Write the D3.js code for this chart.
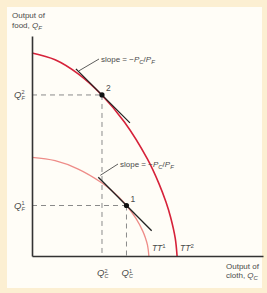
<!DOCTYPE html>
<html>
<head>
<meta charset="utf-8">
<script src="https://cdn.jsdelivr.net/npm/d3@7"></script>
<style>
  body { margin: 0; background: #fcefd2; }
  svg text { font-family: "Liberation Sans", Arial, sans-serif; fill: #4a4a4a; }
</style>
</head>
<body>
<div id="chart"></div>
<script>
// production possibility frontiers (Qc, Qf)
const outerQc = [0, 10, 20, 30, 40, 50, 55, 58, 60, 62, 62.8];
const outerQf = [92.3, 89.2, 82.8, 73.4, 60.9, 44.0, 32.8, 24.5, 17.6, 8.1, 0];
const innerQc = [0, 10, 20, 30, 35, 40, 45, 48, 49, 50, 50.6];
const innerQf = [44.8, 43.3, 39.5, 33.4, 29.3, 24.1, 17.1, 11.2, 8.5, 4.9, 0];

// production points
const pointNames = ["1", "2"];
const pointQc = [40.9, 30.3];
const pointQf = [22.95, 73.2];

// price line -Pc/Pf and extent of each tangent in Qc
const priceRatio = 1.05;
const tangentFrom = [28.7, 19.0];
const tangentTo = [51.8, 42.4];

const curveNames = ["1", "2"];

const width = 267, height = 293;
const svg = d3.select("#chart").append("svg")
    .attr("width", width)
    .attr("height", height);

// inner panel
svg.append("rect")
    .attr("x", 7).attr("y", 7)
    .attr("width", 255).attr("height", 281)
    .attr("fill", "#fffdf7");

const x = d3.scaleLinear().domain([0, 100]).range([32, 263]);
const y = d3.scaleLinear().domain([0, 100]).range([256, 36]);

// dashed guides
const guides = svg.append("g")
    .attr("stroke", "#8a8a8a")
    .attr("stroke-width", 1)
    .attr("stroke-dasharray", "5,4");
pointQc.forEach((qc, i) => {
    guides.append("line")
        .attr("x1", x(0)).attr("x2", x(qc))
        .attr("y1", y(pointQf[i])).attr("y2", y(pointQf[i]));
    guides.append("line")
        .attr("x1", x(qc)).attr("x2", x(qc))
        .attr("y1", y(pointQf[i])).attr("y2", y(0));
});

const line = d3.line()
    .x(d => x(d[0]))
    .y(d => y(d[1]))
    .curve(d3.curveCatmullRom.alpha(0.5));

svg.append("path")
    .datum(innerQc.map((v, i) => [v, innerQf[i]]))
    .attr("d", line)
    .attr("fill", "none")
    .attr("stroke", "#ee8c88")
    .attr("stroke-width", 1.3);

svg.append("path")
    .datum(outerQc.map((v, i) => [v, outerQf[i]]))
    .attr("d", line)
    .attr("fill", "none")
    .attr("stroke", "#d6223a")
    .attr("stroke-width", 1.6);

// tangent price lines
pointQc.forEach((qc, i) => {
    const f = q => pointQf[i] - priceRatio * (q - qc);
    svg.append("line")
        .attr("x1", x(tangentFrom[i])).attr("y1", y(f(tangentFrom[i])))
        .attr("x2", x(tangentTo[i])).attr("y2", y(f(tangentTo[i])))
        .attr("stroke", "#222")
        .attr("stroke-width", 1.3);
});

// axes
svg.append("g")
    .attr("transform", `translate(0,${y(0)})`)
    .call(d3.axisBottom(x).ticks(0).tickSizeOuter(0))
    .select(".domain").attr("stroke", "#333").attr("stroke-width", 1.6);
svg.append("g")
    .attr("transform", `translate(${x(0)},0)`)
    .call(d3.axisLeft(y).ticks(0).tickSizeOuter(0))
    .select(".domain").attr("stroke", "#333").attr("stroke-width", 1.6);

// points
svg.selectAll("circle.pt")
    .data(pointQc)
    .enter()
    .append("circle")
    .attr("class", "pt")
    .attr("cx", d => x(d))
    .attr("cy", (d, i) => y(pointQf[i]))
    .attr("r", 2.6)
    .attr("fill", "#111");

svg.selectAll("text.ptlabel")
    .data(pointNames)
    .enter()
    .append("text")
    .attr("class", "ptlabel")
    .attr("x", (d, i) => x(pointQc[i]) + 4)
    .attr("y", (d, i) => y(pointQf[i]) - 4)
    .attr("font-size", 8.5)
    .text(d => d);

// Q with sub and sup stacked
function qLabel(px, py, sub, sup) {
    const g = svg.append("g");
    g.append("text").attr("x", px).attr("y", py)
        .attr("font-size", 9.5).attr("font-style", "italic").text("Q");
    g.append("text").attr("x", px + 7.5).attr("y", py - 3.5)
        .attr("font-size", 5.5).text(sup);
    g.append("text").attr("x", px + 7.5).attr("y", py + 2)
        .attr("font-size", 5.5).attr("font-style", "italic").text(sub);
}
pointQf.forEach((qf, i) => qLabel(14, y(qf) + 3, "F", pointNames[i]));
pointQc.forEach((qc, i) => qLabel(x(qc) - 5, 276, "C", pointNames[i]));

// slope labels
function slopeLabel(px, py, lx, ly) {
    svg.append("line")
        .attr("x1", lx).attr("y1", ly).attr("x2", px - 2).attr("y2", py - 3)
        .attr("stroke", "#333").attr("stroke-width", 0.8);
    const t = svg.append("text").attr("x", px).attr("y", py).attr("font-size", 8);
    t.append("tspan").text("slope = \u2212");
    t.append("tspan").attr("font-style", "italic").text("P");
    t.append("tspan").attr("font-style", "italic").attr("font-size", 6).attr("dy", 2).text("C");
    t.append("tspan").attr("dy", -2).text("/");
    t.append("tspan").attr("font-style", "italic").text("P");
    t.append("tspan").attr("font-style", "italic").attr("font-size", 6).attr("dy", 2).text("F");
}
{
    const fUp = q => pointQf[1] - priceRatio * (q - pointQc[1]);
    slopeLabel(101, 62, x(tangentFrom[1]) + 3, y(fUp(tangentFrom[1])) + 2);
    const fLo = q => pointQf[0] - priceRatio * (q - pointQc[0]);
    slopeLabel(120, 167, x(tangentFrom[0]) + 2, y(fLo(tangentFrom[0])) - 2);
}

// curve names
[innerQc, outerQc].forEach((qcs, i) => {
    const t = svg.append("text")
        .attr("x", x(qcs[qcs.length - 1]) + 3)
        .attr("y", 251)
        .attr("font-size", 8.5)
        .attr("font-style", "italic");
    t.append("tspan").text("TT");
    t.append("tspan").attr("font-size", 6).attr("font-style", "normal").attr("dy", -3).text(curveNames[i]);
});

// axis titles
const yt = svg.append("text").attr("x", 12).attr("y", 18).attr("font-size", 8);
yt.append("tspan").text("Output of");
const yt2 = svg.append("text").attr("x", 12).attr("y", 28).attr("font-size", 8);
yt2.append("tspan").text("food, ");
yt2.append("tspan").attr("font-style", "italic").text("Q");
yt2.append("tspan").attr("font-style", "italic").attr("font-size", 6).attr("dy", 2).text("F");

const xt = svg.append("text").attr("x", 226).attr("y", 269).attr("font-size", 8);
xt.append("tspan").text("Output of");
const xt2 = svg.append("text").attr("x", 226).attr("y", 278).attr("font-size", 8);
xt2.append("tspan").text("cloth, ");
xt2.append("tspan").attr("font-style", "italic").text("Q");
xt2.append("tspan").attr("font-style", "italic").attr("font-size", 6).attr("dy", 2).text("C");
</script>
</body>
</html>
